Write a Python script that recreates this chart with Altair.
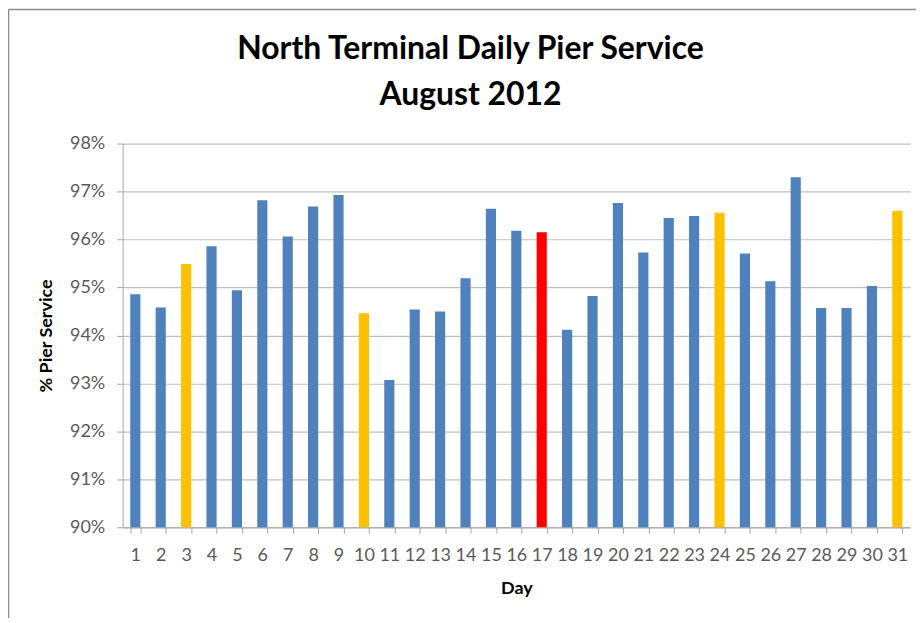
import altair as alt
import pandas as pd

days = list(range(1, 32))
service = [94.86, 94.58, 95.49, 95.86, 94.94, 96.82, 96.06, 96.69, 96.93, 94.46,
           93.07, 94.54, 94.50, 95.19, 96.64, 96.18, 96.15, 94.12, 94.82, 96.76,
           95.73, 96.45, 96.49, 96.56, 95.71, 95.13, 97.30, 94.57, 94.57, 95.03,
           96.60]
group = ["Normal"] * 31
for d in [3, 10, 24, 31]:
    group[d - 1] = "Friday"
group[17 - 1] = "Highlight"

groups = ["Normal", "Friday", "Highlight"]
colors = ["#4F81BD", "#FFC000", "#FF0000"]

title_lines = ["North Terminal Daily Pier Service", "August 2012"]

df = pd.DataFrame({"day": days, "service": service, "group": group})
one = pd.DataFrame({"k": [0]})

FONT = "Lato"
GRAY = "#595959"

x_enc = alt.X("day:O", sort=days,
              scale=alt.Scale(paddingInner=0.6, paddingOuter=0.3),
              axis=alt.Axis(title="Day", ticks=True, tickBand="extent",
                            tickSize=6, tickColor="#A6A6A6", domain=True,
                            domainColor="#A6A6A6", labelAngle=0,
                            labelFontSize=18, labelColor=GRAY, labelFont=FONT,
                            labelPadding=13, titleFont=FONT, titleFontSize=18,
                            titleFontWeight="bold", titleColor="#000000",
                            titlePadding=15, orient="bottom"))

y_enc = alt.Y("service:Q",
              scale=alt.Scale(domain=[90, 98], zero=False, nice=False),
              axis=alt.Axis(title="% Pier Service", values=list(range(90, 99)),
                            labelExpr="datum.value + '%'", grid=True,
                            gridColor="#BFBFBF", gridWidth=1.2,
                            domain=True, domainColor="#A6A6A6",
                            tickColor="#A6A6A6", tickSize=6,
                            labelFont=FONT, labelFontSize=18, labelColor=GRAY,
                            labelPadding=12, titleFont=FONT, titleFontSize=18,
                            titleFontWeight="bold", titleColor="#000000",
                            titlePadding=14))

bars = alt.Chart(df).mark_bar().encode(
    x=x_enc,
    y=y_enc,
    y2=alt.datum(90),
    color=alt.Color("group:N", scale=alt.Scale(domain=groups, range=colors),
                    legend=None),
)

frame_left = alt.Chart(one).mark_rule(color="#8C8C8C", strokeWidth=1.5).encode(
    x=alt.value(-114.5), y=alt.value(-134.5), y2=alt.value(480))
frame_top = alt.Chart(one).mark_rule(color="#8C8C8C", strokeWidth=1.5).encode(
    x=alt.value(-114.5), x2=alt.value(800), y=alt.value(-134.5))

title1 = alt.Chart(one).mark_text(font=FONT, fontSize=32, fontWeight="bold",
                                  color="#000000", align="center",
                                  baseline="alphabetic").encode(
    x=alt.value(349), y=alt.value(-85), text=alt.value(title_lines[0]))
title2 = alt.Chart(one).mark_text(font=FONT, fontSize=32, fontWeight="bold",
                                  color="#000000", align="center",
                                  baseline="alphabetic").encode(
    x=alt.value(349), y=alt.value(-39), text=alt.value(title_lines[1]))

chart = alt.layer(bars, frame_left, frame_top, title1, title2).properties(
    width=790,
    height=385,
    autosize="none",
    padding={"left": 115, "top": 135, "right": 6, "bottom": 90},
).configure_view(stroke=None)

chart.save("out.html", embed_options={"renderer": "svg", "actions": False})
